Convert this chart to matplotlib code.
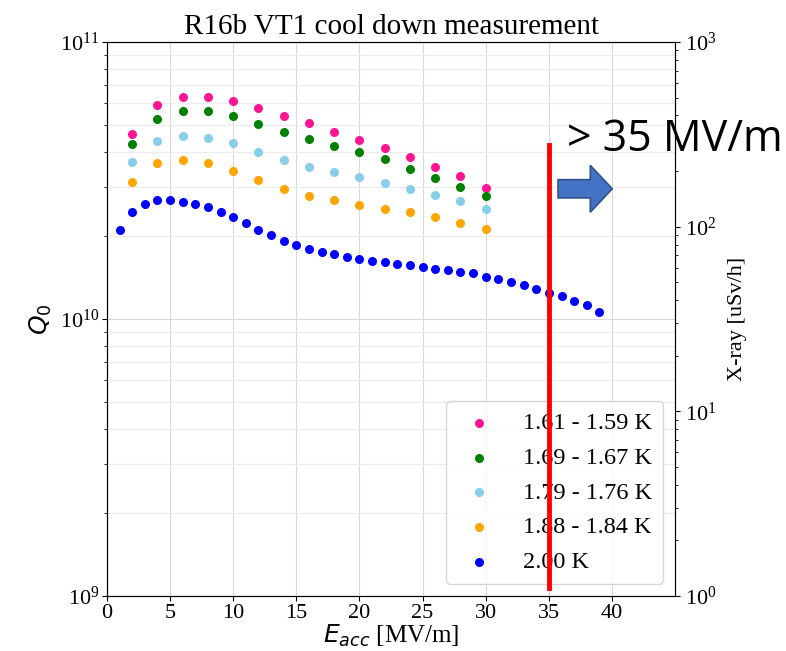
import matplotlib
matplotlib.use("Agg")
import matplotlib.pyplot as plt
from matplotlib.patches import FancyArrow

# data
e_2k = list(range(1, 40))
q_2k = [2.10e10, 2.43e10, 2.60e10, 2.69e10, 2.69e10, 2.64e10, 2.60e10, 2.54e10,
        2.43e10, 2.33e10, 2.22e10, 2.10e10, 2.01e10, 1.91e10, 1.85e10, 1.79e10,
        1.75e10, 1.72e10, 1.67e10, 1.64e10, 1.62e10, 1.60e10, 1.58e10, 1.56e10,
        1.54e10, 1.51e10, 1.50e10, 1.48e10, 1.46e10, 1.42e10, 1.39e10, 1.36e10,
        1.33e10, 1.28e10, 1.24e10, 1.21e10, 1.16e10, 1.12e10, 1.06e10]

e_low = list(range(2, 31, 2))
q_161 = [4.67e10, 5.92e10, 6.33e10, 6.33e10, 6.11e10, 5.76e10, 5.39e10, 5.09e10,
         4.75e10, 4.43e10, 4.13e10, 3.84e10, 3.53e10, 3.27e10, 2.98e10]
q_169 = [4.30e10, 5.28e10, 5.62e10, 5.62e10, 5.39e10, 5.07e10, 4.75e10, 4.47e10,
         4.21e10, 4.01e10, 3.77e10, 3.47e10, 3.24e10, 3.00e10, 2.78e10]
q_179 = [3.68e10, 4.40e10, 4.59e10, 4.51e10, 4.33e10, 4.01e10, 3.74e10, 3.53e10,
         3.39e10, 3.25e10, 3.10e10, 2.95e10, 2.80e10, 2.67e10, 2.49e10]
q_188 = [3.13e10, 3.65e10, 3.74e10, 3.65e10, 3.43e10, 3.17e10, 2.95e10, 2.78e10,
         2.69e10, 2.57e10, 2.49e10, 2.43e10, 2.33e10, 2.23e10, 2.12e10]

labels = ["1.61 - 1.59 K", "1.69 - 1.67 K", "1.79 - 1.76 K", "1.88 - 1.84 K", "2.00 K"]
colors = ["#ff1493", "green", "skyblue", "orange", "blue"]

serif = "Liberation Serif"
fig = plt.figure(figsize=(7.86, 6.51), dpi=100)
ax = fig.add_axes([0.136, 0.0845, 0.723, 0.851])

series = [(e_low, q_161), (e_low, q_169), (e_low, q_179), (e_low, q_188), (e_2k, q_2k)]
for (x, y), c, lab in zip(series, colors, labels):
    ax.scatter(x, y, s=30, color=c, label=lab, zorder=3)

ax.set_yscale("log")
ax.set_ylim(1e9, 1e11)
ax.set_xlim(0, 45)
ax.set_xticks(range(0, 45, 5))
ax.grid(True, which="major", color="#d9d9d9", lw=0.8)
ax.grid(True, which="minor", axis="y", color="#ececec", lw=0.8)
ax.tick_params(labelsize=16, pad=2)
for t in ax.get_xticklabels() + ax.get_yticklabels():
    t.set_fontfamily(serif)
ax.set_ylabel("$Q_0$", fontsize=18)
ax.set_xlabel("$E_{acc}$ [MV/m]", fontsize=18, family=serif, labelpad=0)
ax.set_title("R16b VT1 cool down measurement", fontsize=21, family=serif, pad=6)

ax2 = ax.twinx()
ax2.set_yscale("log")
ax2.set_ylim(1, 1e3)
ax2.tick_params(labelsize=16)
for t in ax2.get_yticklabels():
    t.set_fontfamily(serif)
ax2.set_ylabel("X-ray [uSv/h]", fontsize=16, family=serif, labelpad=8)

leg = ax.legend(loc="lower right", prop={"family": serif, "size": 17.5},
                handletextpad=0.9, labelspacing=0.52, borderpad=0.45,
                handlelength=1.8)
leg.set_zorder(5)

# slide annotations
ax.plot([35, 35], [1.07e9, 4.25e10], color="red", lw=3.5, zorder=6)
arr = FancyArrow(0.710, 0.710, 0.041, 0.0, width=0.028, head_width=0.072,
                 head_length=0.028, length_includes_head=False,
                 transform=fig.transFigure, facecolor="#4472c4",
                 edgecolor="#2f528f", lw=1.2)
fig.patches.append(arr)
fig.text(0.722, 0.785, "> 35 MV/m", fontsize=31, family="Open Sans", va="center")

fig.savefig("out.png", dpi=100)
